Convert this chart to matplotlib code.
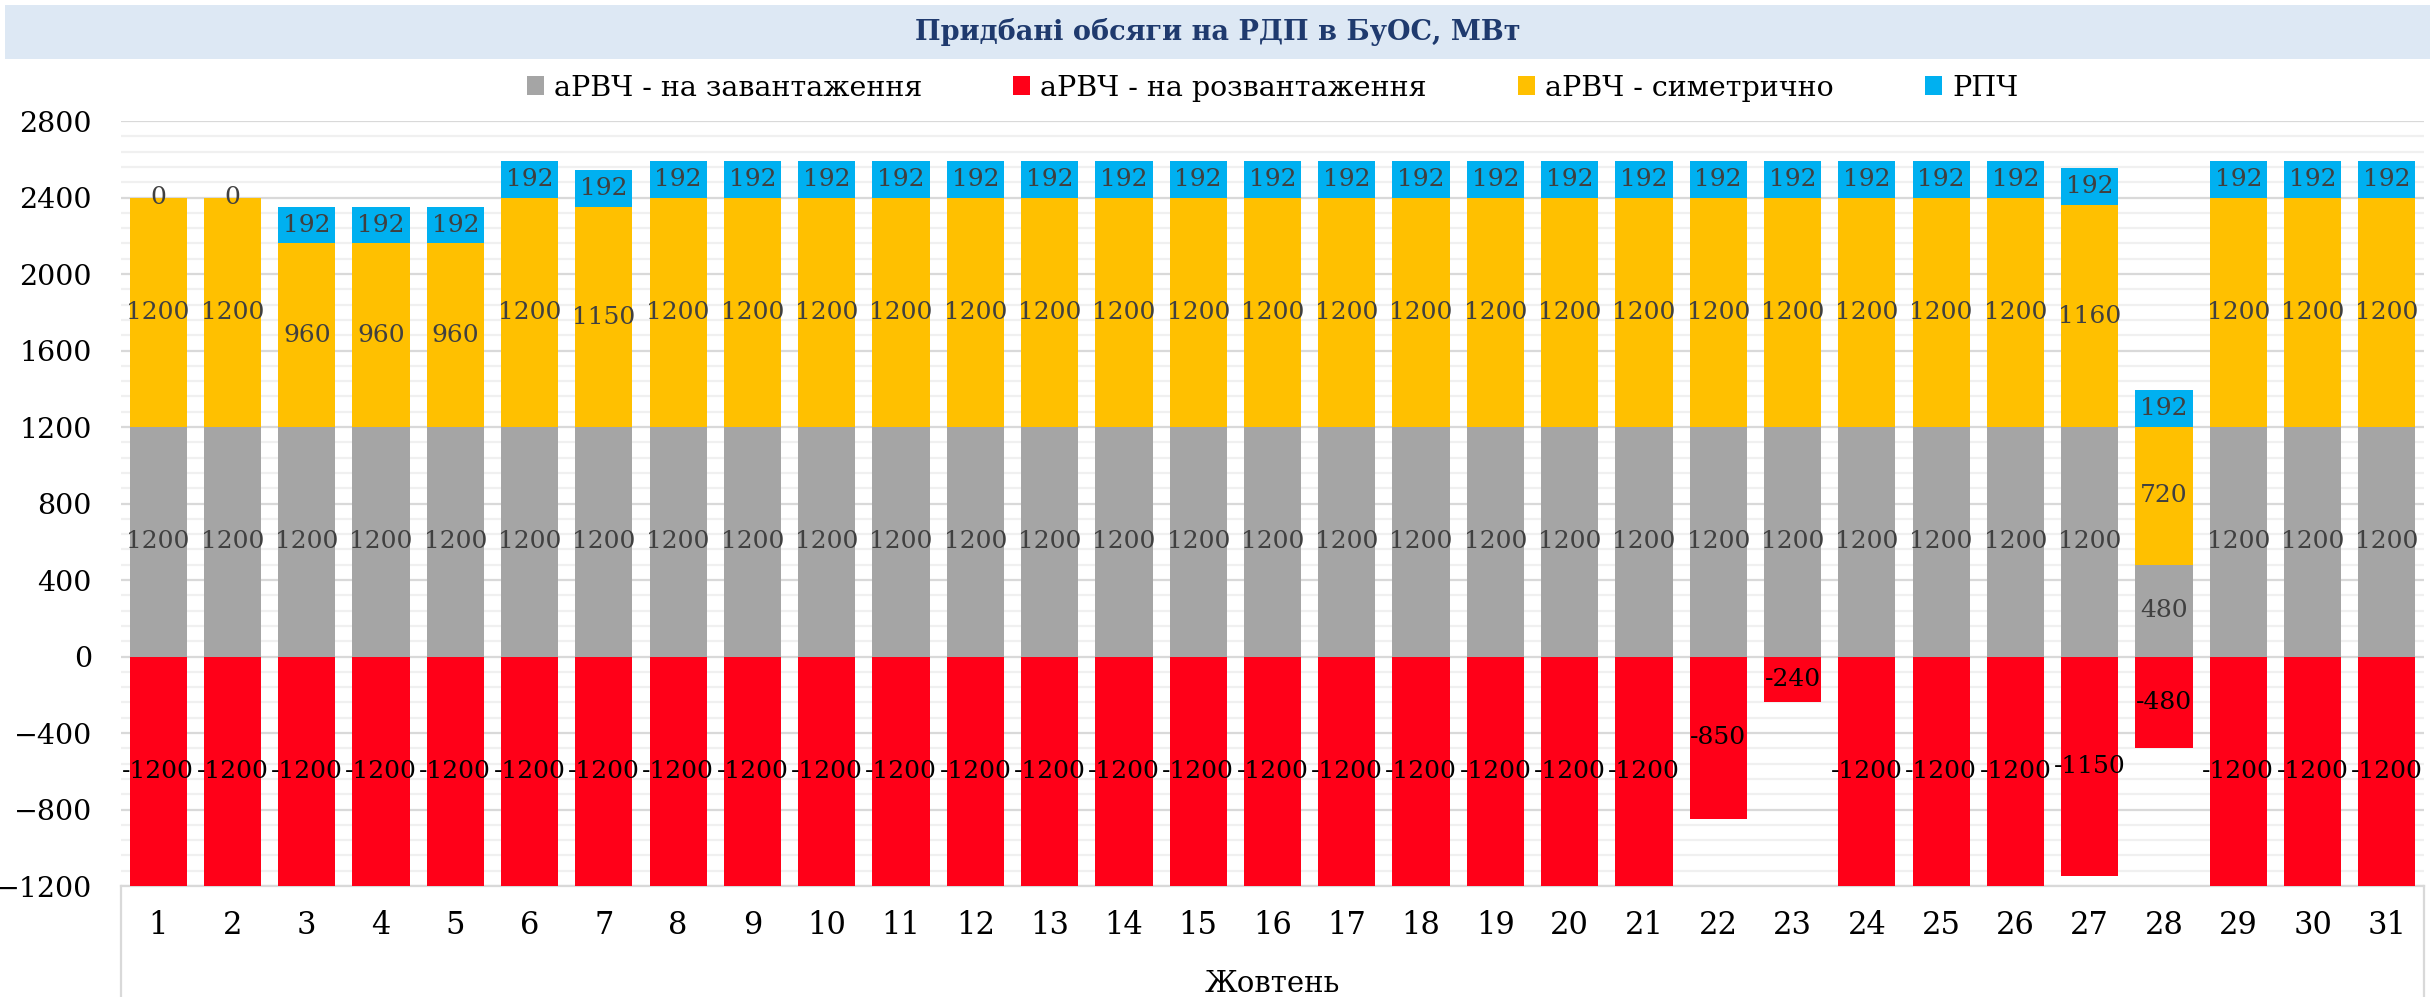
import matplotlib
matplotlib.use("Agg")
import matplotlib.pyplot as plt
from matplotlib.patches import Rectangle
import numpy as np

days = [str(d) for d in range(1, 32)]
load = [1200]*27 + [480] + [1200]*3
unload = [-1200]*21 + [-850, -240, -1200, -1200, -1200, -1150, -480, -1200, -1200, -1200]
symmetric = [1200, 1200, 960, 960, 960, 1200, 1150] + [1200]*19 + [1160, 720, 1200, 1200, 1200]
rpch = [0, 0] + [192]*29
series_names = ["аРВЧ - на завантаження", "аРВЧ - на розвантаження", "аРВЧ - симетрично", "РПЧ"]
title = "Придбані обсяги на РДП в БуОС, МВт"
xlabel = "Жовтень"
yticks = list(range(-1200, 2801, 400))

colors = ["#A5A5A5", "#FF0018", "#FFC000", "#00B0F0"]
plt.rcParams['font.family'] = ['DejaVu Serif']

W, H = 2435, 997
fig = plt.figure(figsize=(W/100, H/100), dpi=100)
left, right, top, bottom = 121, 2424, 121, 886
ax = fig.add_axes([left/W, 1-bottom/H, (right-left)/W, (bottom-top)/H])

x = np.arange(len(days))
bw = 0.77
load_a = np.array(load); sym_a = np.array(symmetric); rpch_a = np.array(rpch); un_a = np.array(unload)
b1 = ax.bar(x, load_a, bw, color=colors[0], label=series_names[0], zorder=3)
b2 = ax.bar(x, un_a, bw, color=colors[1], label=series_names[1], zorder=3)
b3 = ax.bar(x, sym_a, bw, bottom=load_a, color=colors[2], label=series_names[2], zorder=3)
b4 = ax.bar(x, rpch_a, bw, bottom=load_a+sym_a, color=colors[3], label=series_names[3], zorder=3)

lab_fs = 18
for bars, vals, col in [(b1, load, "#404040"), (b2, unload, "black"), (b3, symmetric, "#404040"), (b4, rpch, "#404040")]:
    ax.bar_label(bars, labels=[str(v) for v in vals], label_type='center', fontsize=lab_fs, color=col, zorder=5)

ax.set_xlim(-0.5, len(days)-0.5)
ax.set_ylim(-1200, 2800)
ax.set_yticks(yticks)
ax.set_yticks(np.arange(-1200, 2801, 80), minor=True)
ax.set_xticks(x)
ax.set_xticklabels(days)
ax.tick_params(axis='both', which='both', length=0)
ax.tick_params(axis='y', labelsize=20.5, pad=21)
ax.tick_params(axis='x', labelsize=22, pad=17)
ax.grid(axis='y', which='major', color='#D9D9D9', linewidth=1.6, zorder=0)
ax.grid(axis='y', which='minor', color='#F0F0F0', linewidth=1.6, zorder=0)
for s in ['top', 'left', 'right']:
    ax.spines[s].set_visible(False)
ax.spines['bottom'].set_color('#D9D9D9')
ax.spines['bottom'].set_linewidth(1.6)

# category box vertical lines
ax.plot([0, 0], [0, -0.2], transform=ax.transAxes, color='#D9D9D9', lw=1.6, clip_on=False)
ax.plot([1, 1], [0, -0.2], transform=ax.transAxes, color='#D9D9D9', lw=1.6, clip_on=False)

ax.text(0.5, -(984-bottom)/(bottom-top), xlabel, transform=ax.transAxes, ha='center', va='center', fontsize=21)

# title band
fig.patches.append(Rectangle((5/W, 1-59/H), (W-10)/W, 54/H, transform=fig.transFigure,
                             facecolor='#DDE8F4', edgecolor='none', zorder=0))
fig.text(0.5, 1-32/H, title, ha='center', va='center', fontsize=19.5, fontweight='bold', color='#1F3A6E')

fig.legend(handles=[b1, b2, b3, b4], labels=series_names, loc='center',
           bbox_to_anchor=((left+right)/2/W, 1-88/H),
           ncol=4, frameon=False, fontsize=20.5, handlelength=0.6, handleheight=0.6,
           handletextpad=0.35, columnspacing=3.2)

fig.savefig("out.png", dpi=100)
